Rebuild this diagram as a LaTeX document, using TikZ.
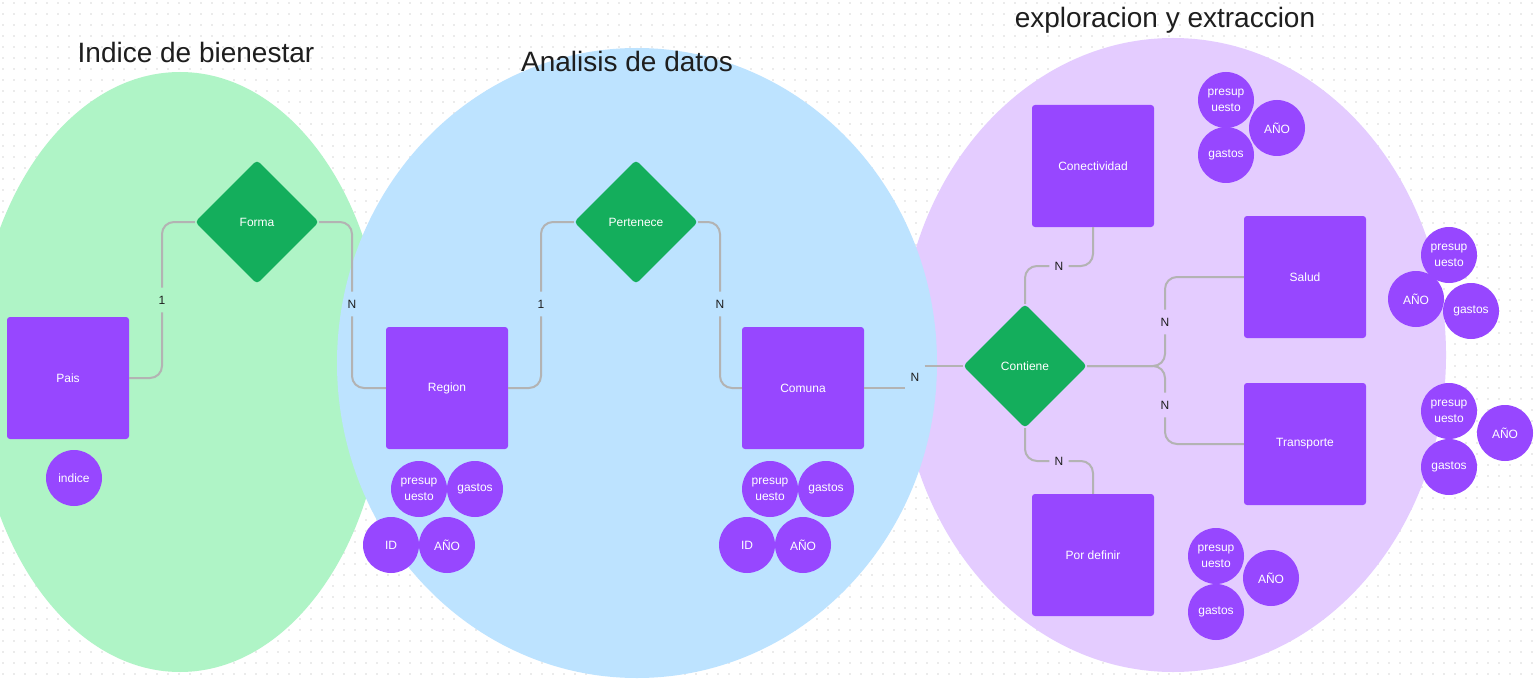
\documentclass[tikz,border=0pt]{standalone}
\usepackage{fontspec}
\setmainfont{Liberation Sans}
\usetikzlibrary{shapes.geometric}

\definecolor{verdefondo}{HTML}{AFF4C6}
\definecolor{azulfondo}{HTML}{BDE3FF}
\definecolor{lilafondo}{HTML}{E4CCFF}
\definecolor{entidad}{HTML}{9747FF}
\definecolor{relacion}{HTML}{14AE5C}
\definecolor{linea}{HTML}{B3B3B3}
\definecolor{oscuro}{HTML}{1E1E1E}
\definecolor{punto}{HTML}{D2D2D2}

\begin{document}
\begin{tikzpicture}[x=1pt, y=-1pt,
  ent/.style={fill=entidad, rectangle, rounded corners=3pt, minimum width=122pt, minimum height=122pt, text=white, font=\fontsize{12}{14}\selectfont},
  rel/.style={fill=relacion, diamond, minimum width=124pt, minimum height=124pt, inner sep=0pt, rounded corners=4pt, text=white, font=\fontsize{12}{14}\selectfont},
  attr/.style={fill=entidad, circle, minimum size=56pt, inner sep=0pt, text=white, align=center, font=\fontsize{12}{16}\selectfont},
  card/.style={inner xsep=5pt, inner ysep=8pt, text=oscuro, font=\fontsize{12}{14}\selectfont},
  link/.style={draw=linea, line width=2pt, rounded corners=12pt},
  titulo/.style={text=oscuro, font=\fontsize{28}{32}\selectfont}]
  \useasboundingbox (0,0) rectangle (1538,679);
  \fill[white] (0,0) rectangle (1538,679);
  \foreach \y in {3,14,...,679} {
    \fill[punto] \foreach \x in {3,14,...,1538} {(\x-0.6,\y-0.6) rectangle ++(1.2,1.2)};
  }
  \fill[verdefondo] (180,372) ellipse [x radius=205, y radius=300];
  \fill[lilafondo] (1173,355) ellipse [x radius=273, y radius=317];
  \fill[azulfondo] (637,363) ellipse [x radius=300, y radius=315];

  \node[titulo] (t1) at (196,52) {Indice de bienestar};
  \node[titulo] (t2) at (627,61) {Analisis de datos};
  \node[titulo] (t3) at (1165,20) {exploracion y extraccion};

  \node[ent] (pais) at (68,378) {Pais};
  \node[ent] (region) at (447,388) {Region};
  \node[ent] (comuna) at (803,388) {Comuna};
  \node[ent] (conectividad) at (1093,166) {Conectividad};
  \node[ent] (salud) at (1305,277) {Salud};
  \node[ent] (transporte) at (1305,444) {Transporte};
  \node[ent] (pordefinir) at (1093,555) {Por definir};

  \node[rel] (forma) at (257,222) {Forma};
  \node[rel] (pertenece) at (636,222) {Pertenece};
  \node[rel] (contiene) at (1025,366) {Contiene};

  \node[attr] (indice) at (74,478) {indice};
  \node[attr] (r1) at (419,489) {presup\\uesto};
  \node[attr] (r2) at (475,489) {gastos};
  \node[attr] (r3) at (391,545) {ID};
  \node[attr] (r4) at (447,545) {AÑO};
  \node[attr] (m1) at (770,489) {presup\\uesto};
  \node[attr] (m2) at (826,489) {gastos};
  \node[attr] (m3) at (747,545) {ID};
  \node[attr] (m4) at (803,545) {AÑO};
  \node[attr] (k1) at (1226,100) {presup\\uesto};
  \node[attr] (k2) at (1277,128) {AÑO};
  \node[attr] (k3) at (1226,155) {gastos};
  \node[attr] (s1) at (1449,255) {presup\\uesto};
  \node[attr] (s2) at (1416,299) {AÑO};
  \node[attr] (s3) at (1471,311) {gastos};
  \node[attr] (p1) at (1449,411) {presup\\uesto};
  \node[attr] (p2) at (1505,433) {AÑO};
  \node[attr] (p3) at (1449,467) {gastos};
  \node[attr] (d1) at (1216,556) {presup\\uesto};
  \node[attr] (d2) at (1271,578) {AÑO};
  \node[attr] (d3) at (1216,612) {gastos};

  \node[card] (c1) at (162,300) {1};
  \node[card] (c2) at (352,304) {N};
  \node[card] (c3) at (541,304) {1};
  \node[card] (c4) at (720,304) {N};
  \node[card] (c5) at (915,377) {N};
  \node[card] (c6) at (1059,266) {N};
  \node[card] (c7) at (1165,322) {N};
  \node[card] (c8) at (1165,405) {N};
  \node[card] (c9) at (1059,461) {N};

  \draw[link] (pais.east) -| (c1);
  \draw[link] (c1) |- (forma.west);
  \draw[link] (forma.east) -| (c2);
  \draw[link] (c2) |- (region.west);
  \draw[link] (region.east) -| (c3);
  \draw[link] (c3) |- (pertenece.west);
  \draw[link] (pertenece.east) -| (c4);
  \draw[link] (c4) |- (comuna.west);
  \draw[link] (comuna.east) -- (comuna.east -| c5.west);
  \draw[link] (contiene.west -| c5.east) -- (contiene.west);
  \draw[link] (contiene.north) |- (c6);
  \draw[link] (c6) -| (conectividad.south);
  \draw[link] (contiene.south) |- (c9);
  \draw[link] (c9) -| (pordefinir.north);
  \draw[link] (contiene.east) -| (c7);
  \draw[link] (c7) |- (salud.west);
  \draw[link] (contiene.east) -| (c8);
  \draw[link] (c8) |- (transporte.west);
\end{tikzpicture}
\end{document}
